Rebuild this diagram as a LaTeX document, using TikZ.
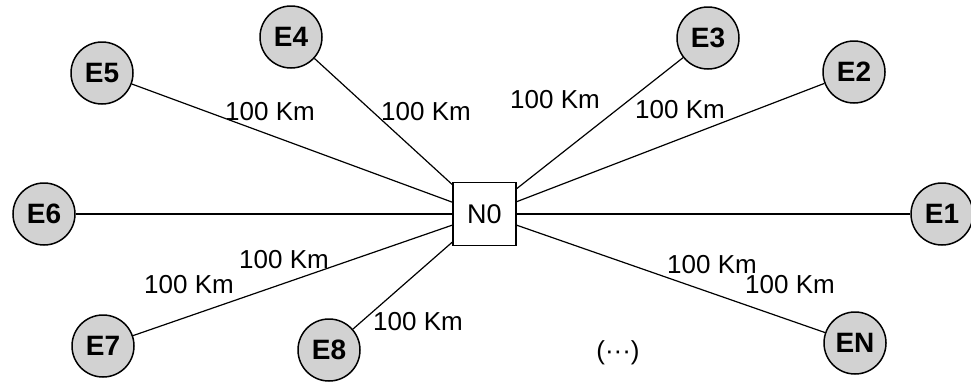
\documentclass[tikz,border=0pt]{standalone}
\usepackage{fontspec}
\setmainfont{Liberation Sans}
\begin{document}
\begin{tikzpicture}[x=1pt,y=-1pt,
  endpt/.style={circle,draw=black,line width=1.5pt,fill=gray!35,minimum size=62pt,inner sep=0pt,font=\fontsize{28}{32}\selectfont\bfseries},
  hub/.style={rectangle,draw=black,line width=1.3pt,fill=white,minimum size=63pt,inner sep=0pt,font=\fontsize{27}{32}\selectfont},
  link/.style={line width=1.2pt},
  lbl/.style={font=\fontsize{26}{30}\selectfont,inner sep=0pt}]
\useasboundingbox (0,0) rectangle (971,381);
\node[hub] (N0) at (484.5,214) {N0};
\node[endpt] (E1) at (942,214) {E1};
\node[endpt] (E2) at (854,72) {E2};
\node[endpt] (E3) at (708,38) {E3};
\node[endpt] (E4) at (291,37) {E4};
\node[endpt] (E5) at (102,73) {E5};
\node[endpt] (E6) at (44,214) {E6};
\node[endpt] (E7) at (103,346) {E7};
\node[endpt] (E8) at (329,350) {E8};
\node[endpt] (EN) at (855,343) {EN};
\foreach \e in {E1,E2,E3,E4,E5,E6,E7,E8,EN}
  \draw[link] (N0) -- (\e);
\node[lbl] (L5) at (270,112) {100 Km};
\node[lbl] (L4) at (426,112) {100 Km};
\node[lbl] (L3) at (555,100) {100 Km};
\node[lbl] (L2) at (680,110) {100 Km};
\node[lbl] (L6) at (284,260) {100 Km};
\node[lbl] (L1) at (712,265) {100 Km};
\node[lbl] (L7) at (189,285) {100 Km};
\node[lbl] (L8) at (418,322) {100 Km};
\node[lbl] (LN) at (790,285) {100 Km};
\node[lbl] (dots) at (618,353) {(\textperiodcentered\textperiodcentered\textperiodcentered)};
\end{tikzpicture}
\end{document}
